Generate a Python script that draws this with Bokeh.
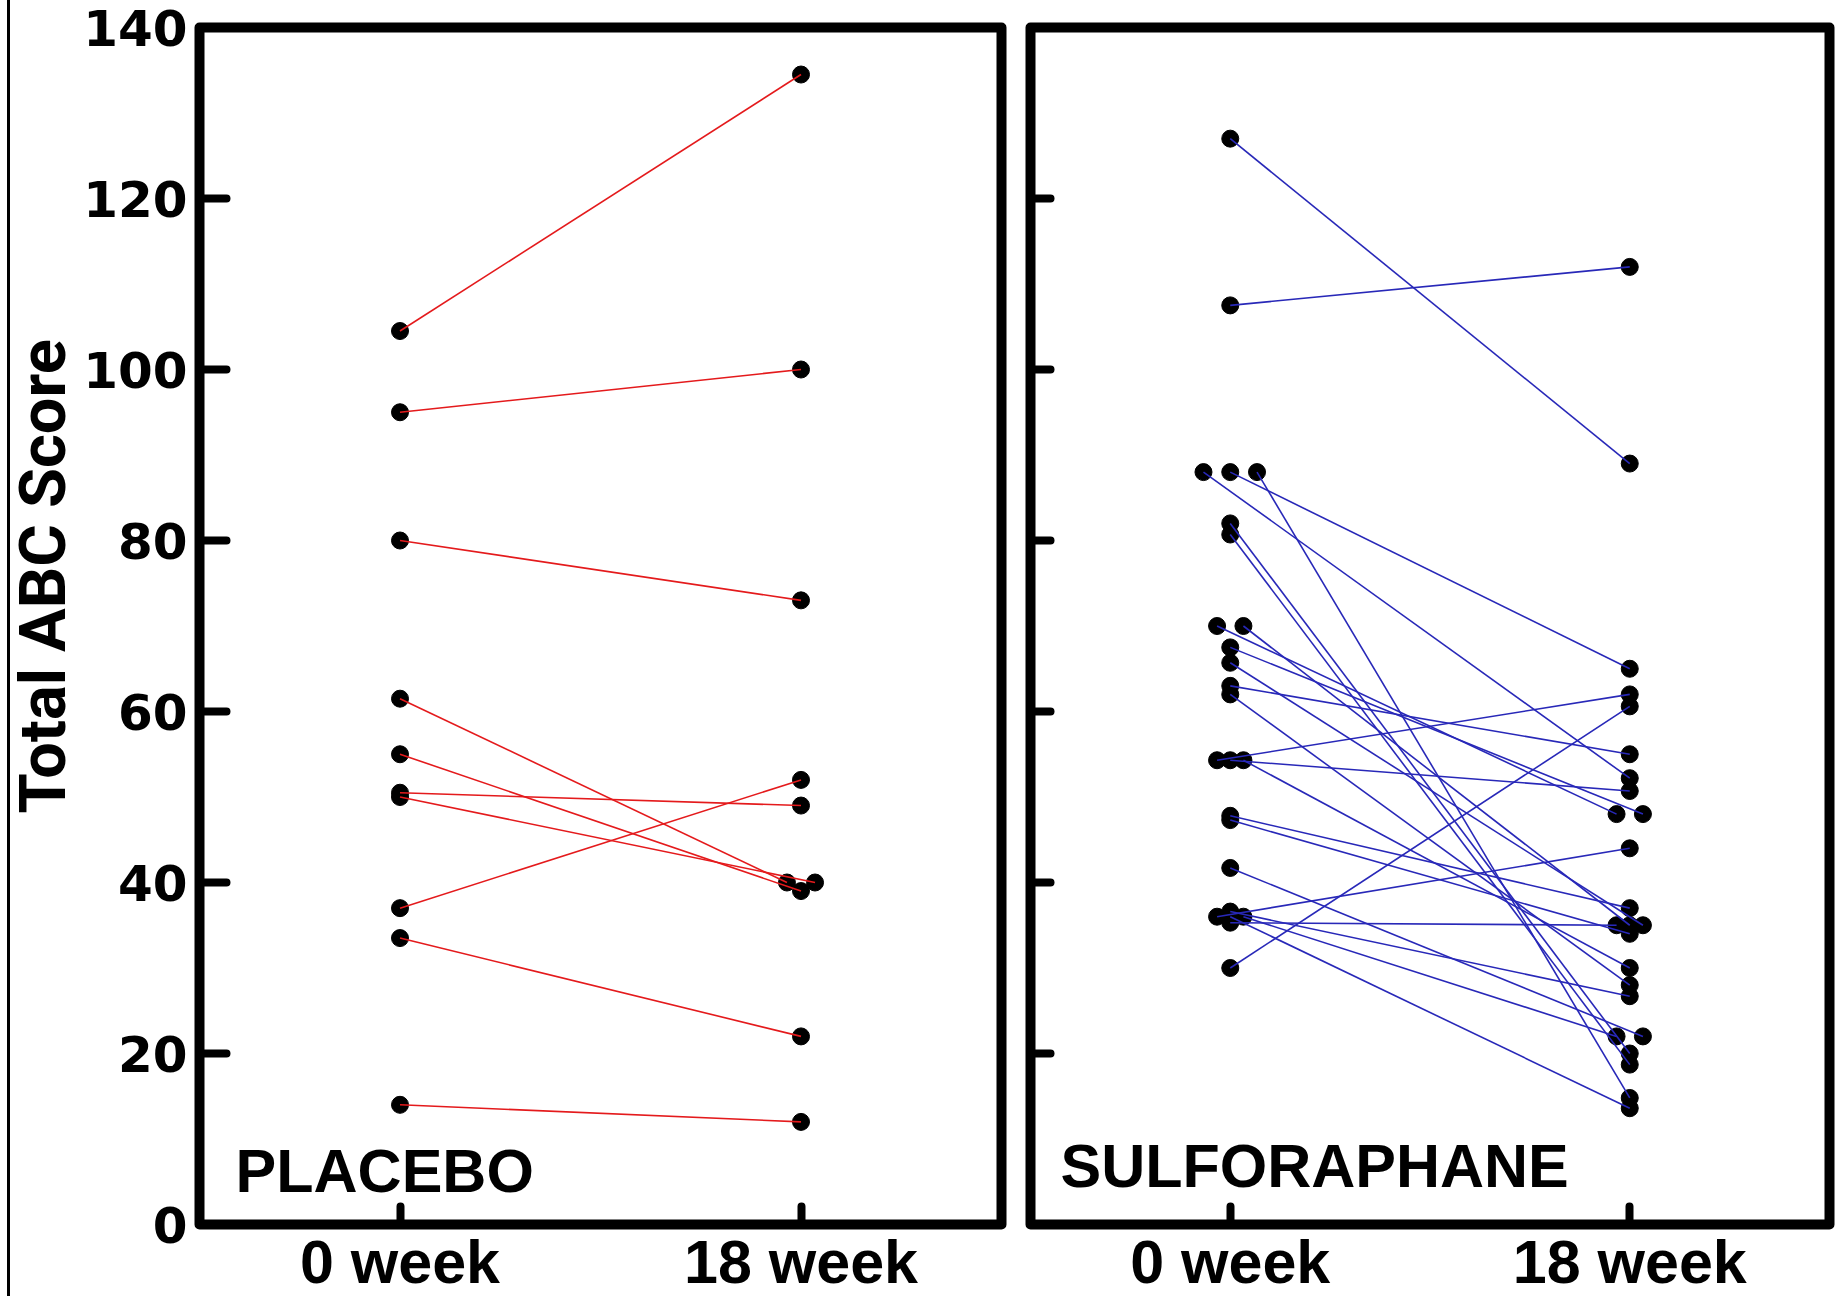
from bokeh.plotting import figure
from bokeh.layouts import row
from bokeh.models import FixedTicker, Label, Title
from bokeh.embed import file_html
from bokeh.resources import INLINE

# ---------------- data ----------------
weeks = ["0 week", "18 week"]
y_ticks = [0, 20, 40, 60, 80, 100, 120, 140]
y_label = "Total ABC Score"

placebo_name = "PLACEBO"
placebo_week0 = [104.5, 95, 80, 61.5, 55, 50.5, 50, 37, 33.5, 14]
placebo_week18 = [134.5, 100, 73, 40, 39, 49, 40, 52, 22, 12]
placebo_jitter0 = [0, 0, 0, 0, 0, 0, 0, 0, 0, 0]
placebo_jitter18 = [0, 0, 0, -0.035, 0, 0, 0.035, 0, 0, 0]

sulf_name = "SULFORAPHANE"
sulf_week0 = [127, 107.5, 88, 88, 88, 82, 80.7, 70, 70, 67.5, 65.7, 63, 62,
              54.3, 54.3, 54.3, 47.8, 47.3, 41.7, 36, 35.3, 36, 36.6, 36, 30]
sulf_week18 = [89, 112, 65, 52.2, 14.8, 20, 18.7, 48, 35, 48, 35, 55, 28,
               62, 50.7, 30, 37, 34, 22, 44, 35, 22, 26.7, 13.6, 60.6]
sulf_jitter0 = [0, 0, 0, -0.067, 0.067, 0, 0, -0.033, 0.033, 0, 0, 0, 0,
                -0.033, 0, 0.033, 0, 0, 0, -0.033, 0, 0.033, 0, 0, 0]
sulf_jitter18 = [0, 0, 0, 0, 0, 0, 0, -0.033, 0, 0.033, 0.033, 0, 0,
                 0, 0, 0, 0, 0, 0.033, 0, -0.033, -0.033, 0, 0, 0]

FRAME_H = 1197


def panel(w0, w18, j0, j18, color, name, first, frame_w, border_l, border_r, label_xy):
    p = figure(x_range=(-0.5, 1.5), y_range=(y_ticks[0], y_ticks[-1]),
               frame_width=frame_w, frame_height=FRAME_H,
               min_border_left=border_l, min_border_right=border_r,
               min_border_top=27, min_border_bottom=72,
               output_backend="svg", toolbar_location=None,
               background_fill_color="white", border_fill_color="white")
    p.grid.visible = False
    p.outline_line_color = "black"
    p.outline_line_width = 10
    p.outline_line_join = "round"

    xs0 = [0 + d for d in j0]
    xs1 = [1 + d for d in j18]
    p.scatter(xs0 + xs1, list(w0) + list(w18), size=17, color="black")
    p.segment(x0=xs0, y0=w0, x1=xs1, y1=w18, line_color=color, line_width=1.6)

    # x axis
    xa = p.xaxis[0]
    xa.ticker = FixedTicker(ticks=[0, 1])
    xa.major_label_overrides = {0: weeks[0], 1: weeks[1]}
    xa.axis_line_color = None
    xa.major_tick_in = 18
    xa.major_tick_out = 0
    xa.major_tick_line_width = 8
    xa.major_tick_line_cap = "round"
    xa.minor_tick_line_color = None
    xa.major_label_text_font = "Liberation Sans"
    xa.major_label_text_font_style = "bold"
    xa.major_label_text_font_size = "61px"
    xa.major_label_text_color = "black"
    xa.major_label_standoff = 3

    ya = p.yaxis[0]
    if first:
        ya.ticker = FixedTicker(ticks=y_ticks)
        ya.axis_line_color = None
        ya.major_tick_in = 27
        ya.major_tick_out = 0
        ya.major_tick_line_width = 8
        ya.major_tick_line_cap = "round"
        ya.minor_tick_line_color = None
        ya.major_label_text_font = "DejaVu Sans"
        ya.major_label_text_font_style = "bold"
        ya.major_label_text_font_size = "50px"
        ya.major_label_text_color = "black"
        ya.major_label_standoff = 12
        p.add_layout(Title(text=y_label, align="left", offset=411,
                           text_font="Roboto", text_font_style="bold",
                           text_font_size="65px", text_color="black",
                           standoff=0), "left")
    else:
        ya.visible = False
        inner = [t for t in y_ticks[1:-1]]
        tick_len = 20 * 2.0 / frame_w
        p.segment(x0=[-0.5] * len(inner), y0=inner,
                  x1=[-0.5 + tick_len] * len(inner), y1=inner,
                  line_color="black", line_width=8, line_cap="round")

    p.add_layout(Label(x=label_xy[0], y=label_xy[1], text=name,
                       text_font="Liberation Sans", text_font_style="bold",
                       text_font_size="61px", text_color="black",
                       text_baseline="alphabetic", text_align="left"))
    return p


p1 = panel(placebo_week0, placebo_week18, placebo_jitter0, placebo_jitter18,
           "#e41a1c", placebo_name, True, 802, 199, 14, (-0.41, 6.3))
p2 = panel(sulf_week0, sulf_week18, sulf_jitter0, sulf_jitter18,
           "#2828b8", sulf_name, False, 799, 15, 6, (-0.425, 6.8))

p1.border_fill_color = None
p1.styles = {"background": "linear-gradient(to right, white 7px, black 7px, black 10px, white 10px)"}

layout = row(p1, p2)
open("out.html", "w").write(file_html(layout, INLINE))
